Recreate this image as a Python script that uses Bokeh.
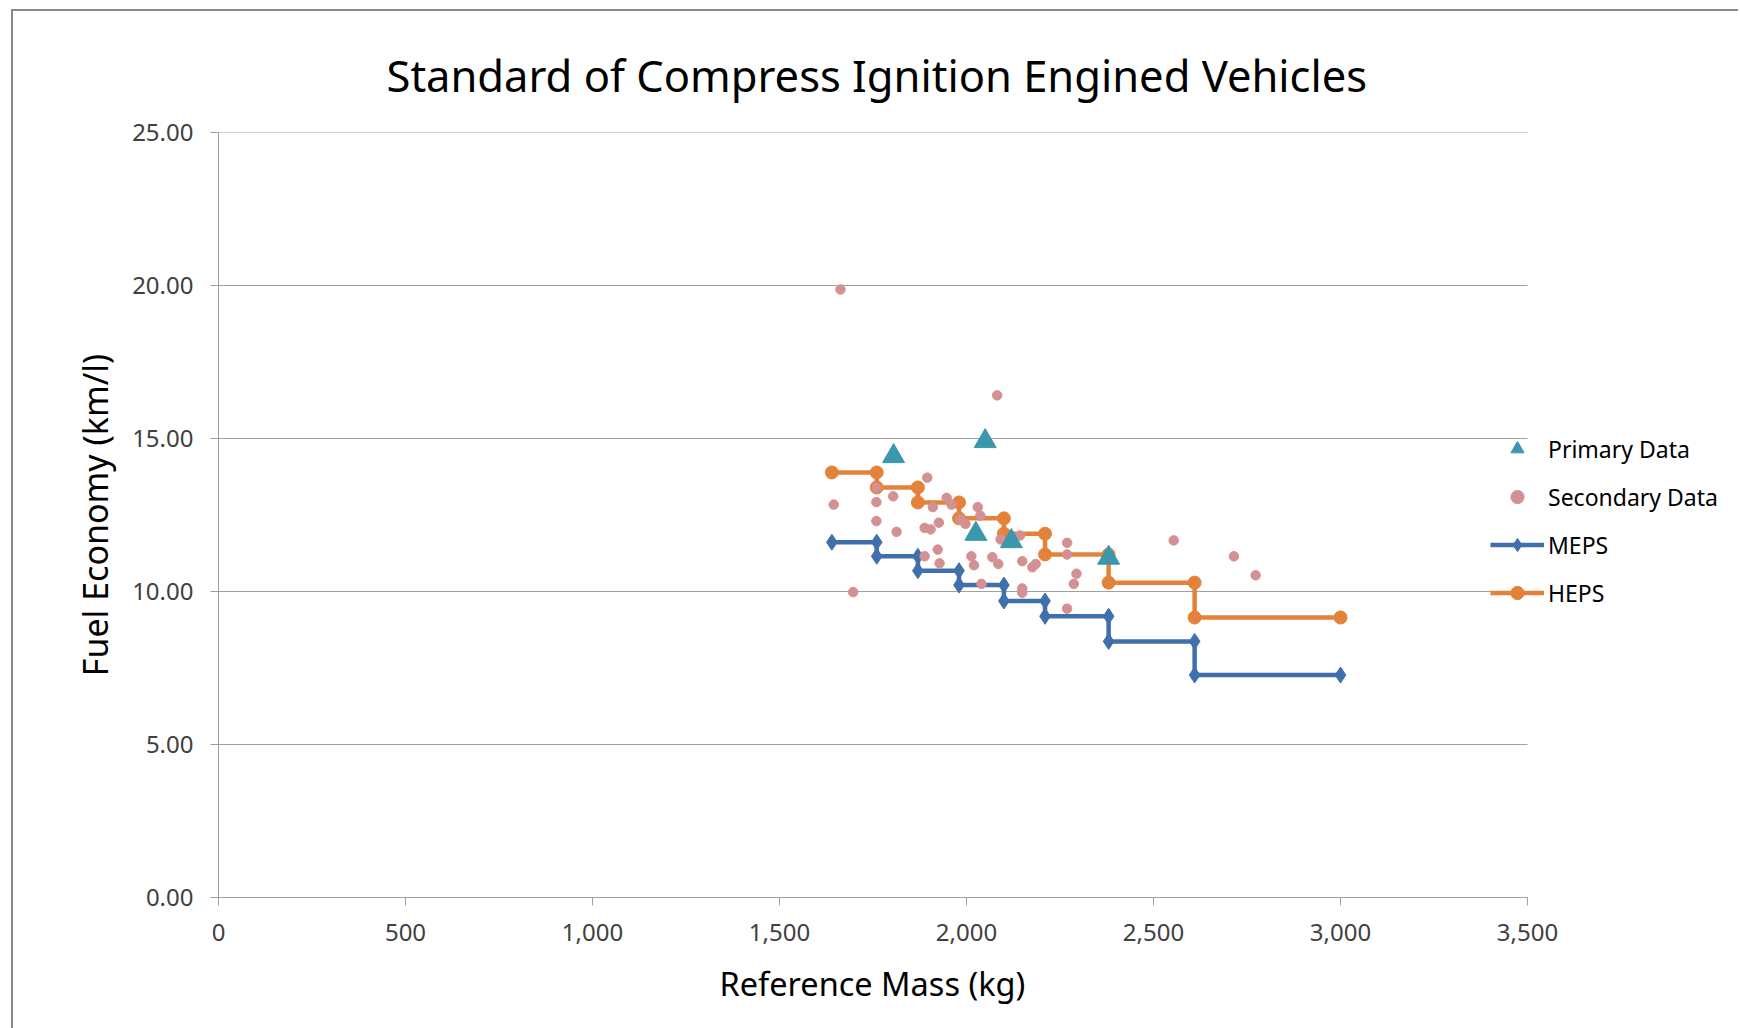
from bokeh.plotting import figure
from bokeh.models import Range1d, NumeralTickFormatter, FixedTicker, Legend, LegendItem, ColumnDataSource, Title
from bokeh.embed import file_html
from bokeh.resources import INLINE

# ---- data ----
mass_breaks = [1640, 1760, 1870, 1980, 2100, 2210, 2380, 2610, 3000]
meps_values = [11.61, 11.15, 10.68, 10.21, 9.69, 9.19, 8.37, 7.27]
heps_values = [13.89, 13.40, 12.91, 12.39, 11.89, 11.21, 10.29, 9.15]

primary_mass = [1805, 2050, 2025, 2120, 2380]
primary_fe = [14.42, 14.91, 11.88, 11.64, 11.10]

secondary_mass = [1663, 2082, 1895, 1759, 1645, 1759, 1804, 1759, 1813, 1910,
                  1888, 1904, 1926, 1923, 1888, 1928, 1697, 1947, 1960, 1984,
                  2030, 2037, 1997, 2013, 2020, 2040, 2069, 2085, 2091, 2143,
                  2149, 2149, 2149, 2176, 2185, 2269, 2269, 2294, 2287, 2269,
                  2554, 2715, 2773]
secondary_fe = [19.87, 16.41, 13.72, 13.39, 12.84, 12.92, 13.11, 12.30, 11.95, 12.76,
                12.08, 12.03, 12.25, 11.37, 11.15, 10.92, 9.98, 13.06, 12.84, 12.35,
                12.76, 12.48, 12.21, 11.15, 10.86, 10.25, 11.12, 10.90, 11.70, 11.83,
                10.99, 10.10, 9.96, 10.79, 10.90, 11.59, 11.21, 10.58, 10.25, 9.44,
                11.67, 11.15, 10.53]

x_ticks = [0, 500, 1000, 1500, 2000, 2500, 3000, 3500]
y_ticks = [0, 5, 10, 15, 20, 25]


def steps(breaks, vals):
    xs, ys = [], []
    for i, v in enumerate(vals):
        xs += [breaks[i], breaks[i + 1]]
        ys += [v, v]
    return xs, ys


meps_x, meps_y = steps(mass_breaks, meps_values)
heps_x, heps_y = steps(mass_breaks, heps_values)

FONT = "Noto Sans"
TEAL = "#3B97AC"
PINK = "#D49194"
BLUE = "#4070AB"
ORANGE = "#E3823A"
GRID = "#A0A0A0"

# geometry: axis spans 0..3500 over 1309 px; frame extends further right to host legend
W, H = 1727, 1019
ML, MR, MT, MB = 205, 13, 121, 133
AXIS_PX = 1309
frame_w = W - ML - MR
x_max = x_ticks[-1] * frame_w / AXIS_PX

p = figure(width=W, height=H, x_range=Range1d(0, x_max), y_range=Range1d(0, 25),
           output_backend="svg", toolbar_location=None,
           min_border_left=ML, min_border_right=MR, min_border_top=MT, min_border_bottom=MB,
           title="Standard of Compress Ignition Engined Vehicles")
p.margin = (9, 0, 0, 11)
p.styles = {"border-top": "2px solid #8a8a8a", "border-left": "2px solid #8a8a8a"}

p.title.text_font = FONT
p.title.text_font_size = "43.5px"
p.title.text_font_style = "normal"
p.title.align = "left"
p.title.offset = 168
p.title.text_color = "#000000"
p.title.standoff = 56

p.outline_line_color = None
p.background_fill_color = "white"
p.border_fill_color = "white"

p.xaxis.ticker = FixedTicker(ticks=x_ticks)
p.yaxis.ticker = FixedTicker(ticks=y_ticks)
p.xaxis.bounds = (x_ticks[0], x_ticks[-1])
p.xaxis.formatter = NumeralTickFormatter(format="0,0")
p.yaxis.formatter = NumeralTickFormatter(format="0.00")
p.xaxis.minor_tick_line_color = None
p.yaxis.minor_tick_line_color = None

for ax in (p.xaxis, p.yaxis):
    ax.axis_line_color = GRID
    ax.major_tick_line_color = GRID
    ax.major_tick_in = 0
    ax.major_tick_out = 8
    ax.major_label_text_font = FONT
    ax.major_label_text_font_size = "24px"
    ax.major_label_text_color = "#404040"
    ax.axis_label_text_font = FONT
    ax.axis_label_text_font_size = "34px"
    ax.axis_label_text_font_style = "normal"
    ax.axis_label_text_color = "#000000"

p.yaxis.axis_label = "Fuel Economy (km/l)"
p.xaxis.major_label_standoff = 18
p.yaxis.major_label_standoff = 17
p.yaxis.axis_label_standoff = 11

xlabel = Title(text="Reference Mass (kg)", align="left", offset=501,
               text_font=FONT, text_font_size="32.5px", text_font_style="normal",
               text_line_height=1.0, text_color="#000000", standoff=31)
p.add_layout(xlabel, "below")

p.xgrid.grid_line_color = None
p.ygrid.grid_line_color = None
# horizontal gridlines limited to the axis extent
p.segment(x0=[x_ticks[0]] * len(y_ticks), x1=[x_ticks[-1]] * len(y_ticks),
          y0=y_ticks, y1=y_ticks, line_color=GRID, line_width=1)

src_m = ColumnDataSource(dict(x=meps_x, y=meps_y))
src_h = ColumnDataSource(dict(x=heps_x, y=heps_y))

r_ml = p.line("x", "y", source=src_m, line_color=BLUE, line_width=4.5)
r_mm = p.scatter("x", "y", source=src_m, marker="diamond", size=16, fill_color=BLUE, line_color=BLUE)
r_hl = p.line("x", "y", source=src_h, line_color=ORANGE, line_width=4.5)
r_hm = p.scatter("x", "y", source=src_h, marker="circle", size=13, fill_color=ORANGE, line_color=ORANGE)

r_sec = p.scatter(secondary_mass, secondary_fe, marker="circle", size=9.5,
                  fill_color=PINK, line_color=PINK)
r_pri = p.scatter(primary_mass, primary_fe, marker="triangle", size=22,
                  fill_color=TEAL, line_color=TEAL)

legend = Legend(items=[
    LegendItem(label="Primary Data", renderers=[r_pri]),
    LegendItem(label="Secondary Data", renderers=[r_sec]),
    LegendItem(label="MEPS", renderers=[r_ml, r_mm]),
    LegendItem(label="HEPS", renderers=[r_hl, r_hm]),
], location=(1272, 288))
legend.label_text_font = FONT
legend.label_text_font_size = "23px"
legend.label_text_color = "#000000"
legend.glyph_width = 54
legend.glyph_height = 33
legend.label_height = 33
legend.spacing = 15
legend.padding = 0
legend.margin = 0
legend.label_standoff = 4
legend.background_fill_alpha = 0
legend.border_line_color = None
p.add_layout(legend, "center")

open("out.html", "w").write(file_html(p, INLINE))
